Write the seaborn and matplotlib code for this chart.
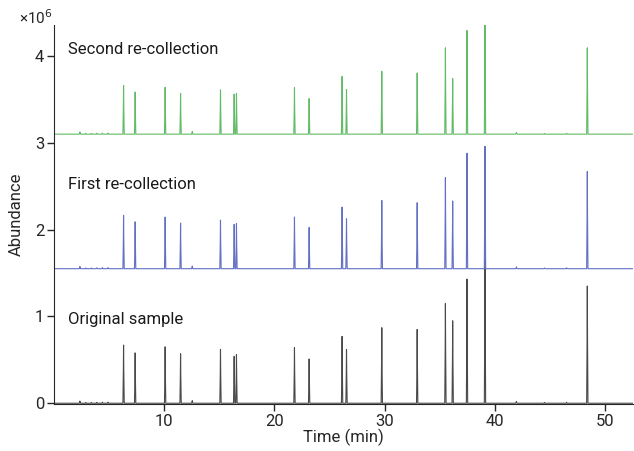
import numpy as np
import pandas as pd
import matplotlib
matplotlib.use("Agg")
import matplotlib.pyplot as plt
import seaborn as sns

# peak retention times (min)
peak_times = [6.32, 7.37, 10.09, 11.49, 15.11, 16.35, 16.56, 21.82, 23.15,
              26.14, 26.54, 29.74, 32.95, 35.51, 36.17, 37.47, 39.10, 48.38]
# peak heights (x10^6) for each run
orig_heights = [0.67, 0.58, 0.65, 0.57, 0.62, 0.54, 0.56, 0.64, 0.51,
                0.77, 0.62, 0.87, 0.85, 1.15, 0.95, 1.43, 1.66, 1.35]
first_heights = [0.615, 0.54, 0.595, 0.525, 0.56, 0.51, 0.52, 0.595, 0.475,
                 0.71, 0.575, 0.785, 0.76, 1.05, 0.78, 1.33, 1.41, 1.12]
second_heights = [0.56, 0.485, 0.54, 0.47, 0.51, 0.46, 0.47, 0.535, 0.41,
                  0.665, 0.515, 0.725, 0.705, 0.995, 0.64, 1.195, 1.26, 0.995]
# small baseline bumps
minor_times = [2.36, 2.9, 3.4, 3.9, 4.4, 4.9, 12.55, 41.95, 44.5, 46.5]
minor_heights = [0.025, 0.008, 0.008, 0.01, 0.012, 0.012, 0.03, 0.02, 0.008, 0.01]

offsets = [0.0, 1.55, 3.1]
run_names = ["Original sample", "First re-collection", "Second re-collection"]
run_colors = ["#4a4a4a", "#6470c4", "#62bb66"]
x_start, x_end = 0.0, 52.5


def trace(heights, base):
    xs, ys = [x_start], [base]
    events = sorted(list(zip(peak_times, heights)) + list(zip(minor_times, minor_heights)))
    for t, h in events:
        xs += [t - 0.06, t - 0.02, t, t + 0.02, t + 0.06]
        ys += [base, base + 0.55 * h, base + h, base + 0.55 * h, base]
    xs.append(x_end)
    ys.append(base)
    return pd.DataFrame({"time": xs, "abundance": ys})


sns.set_style("ticks")
plt.rcParams['font.family'] = ['Roboto', 'DejaVu Sans']

fig = plt.figure(figsize=(6.34, 4.51), dpi=100)
ax = fig.add_axes([0.085, 0.104, 0.913, 0.841])

for heights, base, name, col in zip([orig_heights, first_heights, second_heights],
                                    offsets, run_names, run_colors):
    df = trace(heights, base)
    sns.lineplot(data=df, x="time", y="abundance", ax=ax, color=col,
                 lw=0.8, estimator=None, sort=False)
    ax.text(1.27, base + 0.97, name, fontsize=12, va="center", ha="left",
            color="#1a1a1a")

ax.set_xlim(x_start, x_end)
ax.set_ylim(-0.01, 4.36)
ax.set_xticks([10, 20, 30, 40, 50])
ax.set_yticks([0, 1, 2, 3, 4])
ax.tick_params(labelsize=12, length=5, width=1, direction="out", pad=2)
ax.set_xlabel("Time (min)", fontsize=12, labelpad=0)
ax.set_ylabel("Abundance", fontsize=12, labelpad=8)
ax.text(-0.06, 0.995, "×10$^6$", transform=ax.transAxes, fontsize=11,
        ha="left", va="bottom")
sns.despine(ax=ax)

fig.savefig("out.png", dpi=100)
